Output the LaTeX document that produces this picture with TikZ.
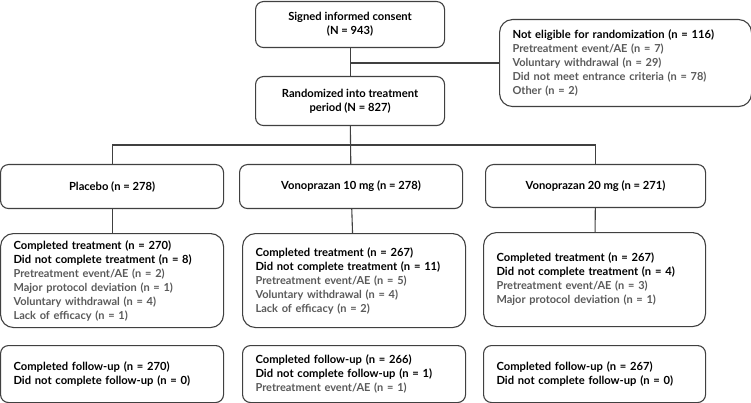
\documentclass[tikz,border=0pt]{standalone}
\usepackage{fontspec}
\setmainfont{Lato}
\definecolor{linegray}{HTML}{404040}
\definecolor{textgray}{HTML}{5a5a5a}
\newcommand{\sub}[1]{{\color{textgray}\fontsize{11}{14}\selectfont #1}}

\begin{document}
\begin{tikzpicture}[x=1pt, y=-1pt,
  box/.style={draw=linegray, line width=1.1pt, rounded corners=8pt,
    anchor=north west, inner xsep=13pt, inner ysep=0pt,
    font=\fontsize{11.2}{14}\selectfont\bfseries},
  midbox/.style={box, align=center},
  listbox/.style={box, align=left, rounded corners=13pt},
  link/.style={draw=linegray, line width=1.1pt}
  ]
  \useasboundingbox (0,0) rectangle (751,403);

  % top part
  \node[midbox, minimum width=189pt, minimum height=46pt] (consent) at (255,1)
    {Signed informed consent\\(N = 943)};
  \node[midbox, minimum width=189pt, minimum height=49pt] (randomized) at (255,76)
    {Randomized into treatment\\period (N = 827)};
  \node[listbox, minimum width=251pt, minimum height=87pt, text width=226pt] (noteligible) at (499,19)
    {Not eligible for randomization (n = 116)\\
     \sub{Pretreatment event/AE (n = 7)}\\
     \sub{Voluntary withdrawal (n = 29)}\\
     \sub{Did not meet entrance criteria (n = 78)}\\
     \sub{Other (n = 2)}};

  % groups
  \node[midbox, minimum width=223pt, minimum height=44pt] (placebo) at (0,164)
    {Placebo (n = 278)};
  \node[midbox, minimum width=223pt, minimum height=44pt] (vonoten) at (239,164)
    {Vonoprazan 10 mg (n = 278)};
  \node[midbox, minimum width=220pt, minimum height=43pt] (vonotwenty) at (485,164)
    {Vonoprazan 20 mg (n = 271)};

  % treatment period
  \node[listbox, minimum width=223pt, minimum height=94pt, text width=197pt] (placebotrt) at (0,233)
    {Completed treatment (n = 270)\\
     Did not complete treatment (n = 8)\\
     \sub{Pretreatment event/AE (n = 2)}\\
     \sub{Major protocol deviation (n = 1)}\\
     \sub{Voluntary withdrawal (n = 4)}\\
     \sub{Lack of efficacy (n = 1)}};
  \node[listbox, minimum width=223pt, minimum height=94pt, text width=197pt] (vonotentrt) at (242,233)
    {Completed treatment (n = 267)\\
     Did not complete treatment (n = 11)\\
     \sub{Pretreatment event/AE (n = 5)}\\
     \sub{Voluntary withdrawal (n = 4)}\\
     \sub{Lack of efficacy (n = 2)}};
  \node[listbox, minimum width=222pt, minimum height=94pt, text width=196pt] (vonotwentytrt) at (483,232)
    {Completed treatment (n = 267)\\
     Did not complete treatment (n = 4)\\
     \sub{Pretreatment event/AE (n = 3)}\\
     \sub{Major protocol deviation (n = 1)}};

  % follow-up
  \node[box, align=left, minimum width=223pt, minimum height=57pt, text width=197pt] (placebofu) at (0,345)
    {Completed follow-up (n = 270)\\
     Did not complete follow-up (n = 0)};
  \node[box, align=left, minimum width=223pt, minimum height=57pt, text width=197pt] (vonotenfu) at (242,345)
    {Completed follow-up (n = 266)\\
     Did not complete follow-up (n = 1)\\
     \sub{Pretreatment event/AE (n = 1)}};
  \node[box, align=left, minimum width=222pt, minimum height=57pt, text width=196pt] (vonotwentyfu) at (483,345)
    {Completed follow-up (n = 267)\\
     Did not complete follow-up (n = 0)};

  % connectors
  \draw[link] (consent) -- (randomized);
  \draw[link] (consent.south |- noteligible.west) -- (noteligible.west);
  \draw[link] (randomized) -- (vonoten);
  \coordinate (bus) at (351,145);
  \draw[link] (placebo.north) |- (bus) -| (vonotwenty.north);
  \draw[link] (placebo) -- (placebotrt);
  \draw[link] (vonoten) -- (vonotentrt);
  \draw[link] (vonotwenty) -- (vonotwentytrt);

\end{tikzpicture}
\end{document}
